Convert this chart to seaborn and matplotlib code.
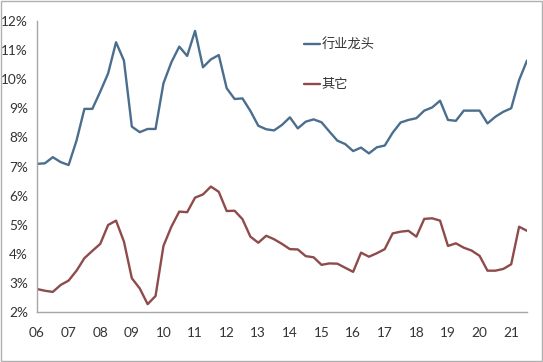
import numpy as np
import pandas as pd
import seaborn as sns
import matplotlib.pyplot as plt
from matplotlib.patches import Rectangle

# ---------------------------------------------------------------
# Data (quarterly, 2006Q1 - 2021Q3), values in %
# ---------------------------------------------------------------
leaders = [
    7.09, 7.11, 7.32, 7.15, 7.05, 7.89, 8.98, 8.98,
    9.57, 10.20, 11.27, 10.64, 8.37, 8.18, 8.29, 8.29,
    9.86, 10.58, 11.12, 10.80, 11.66, 10.41, 10.68, 10.83,
    9.69, 9.32, 9.34, 8.91, 8.40, 8.28, 8.24, 8.43,
    8.69, 8.31, 8.54, 8.62, 8.52, 8.20, 7.89, 7.77,
    7.53, 7.65, 7.45, 7.66, 7.72, 8.16, 8.51, 8.60,
    8.66, 8.92, 9.03, 9.26, 8.60, 8.57, 8.92, 8.92,
    8.92, 8.48, 8.71, 8.88, 9.00, 9.97, 10.64,
]
others = [
    2.79, 2.73, 2.69, 2.93, 3.08, 3.42, 3.85, 4.10,
    4.34, 4.99, 5.14, 4.42, 3.16, 2.81, 2.27, 2.55,
    4.27, 4.93, 5.45, 5.43, 5.93, 6.04, 6.31, 6.13,
    5.47, 5.48, 5.19, 4.59, 4.38, 4.62, 4.50, 4.34,
    4.16, 4.15, 3.92, 3.88, 3.62, 3.67, 3.66, 3.52,
    3.38, 4.04, 3.90, 4.02, 4.16, 4.70, 4.76, 4.79,
    4.59, 5.20, 5.22, 5.14, 4.27, 4.36, 4.21, 4.11,
    3.93, 3.42, 3.42, 3.48, 3.64, 4.93, 4.79,
]
series_names = ["行业龙头", "其它"]
years = list(range(2006, 2022))
year_labels = [f"{y % 100:02d}" for y in years]
y_ticks = list(range(2, 13))

quarter_pos = 2006 + 0.25 * np.arange(len(leaders))
df = pd.DataFrame({"t": quarter_pos, series_names[0]: leaders, series_names[1]: others})
long_df = df.melt(id_vars="t", var_name="series", value_name="value")

# ---------------------------------------------------------------
# Plot
# ---------------------------------------------------------------
sns.set_theme(style="white")
plt.rcParams["font.family"] = ["Lato", "Noto Sans CJK SC", "DejaVu Sans"]

fig = plt.figure(figsize=(5.43, 3.62), dpi=100)
ax = fig.add_axes([37 / 543, 1 - 312 / 362, (527 - 37) / 543, (312 - 21) / 362])

palette = {series_names[0]: "#4b6e8e", series_names[1]: "#8e4b4b"}
sns.lineplot(data=long_df, x="t", y="value", hue="series", palette=palette,
             linewidth=1.7, ax=ax)

ax.set_xlim(2006, 2021.5)
ax.set_ylim(2, 12)
ax.set_xticks(years)
ax.set_xticklabels(year_labels)
ax.set_yticks(y_ticks)
ax.set_yticklabels([f"{v}%" for v in y_ticks])
ax.set_xlabel("")
ax.set_ylabel("")

for side in ["top", "right"]:
    ax.spines[side].set_visible(False)
for side in ["left", "bottom"]:
    ax.spines[side].set_color("#a6a6a6")
    ax.spines[side].set_linewidth(1)

ax.tick_params(axis="both", which="major", direction="out", length=3.5,
               width=1, color="#a6a6a6", labelsize=9.8, labelcolor="#333333")
ax.tick_params(axis="x", pad=7)
ax.tick_params(axis="y", pad=3)

leg = ax.legend(
    loc="upper left",
    bbox_to_anchor=(304 / 543, 1 - 39 / 362),
    bbox_transform=fig.transFigure,
    frameon=False,
    handlelength=1.2,
    handletextpad=0.15,
    labelspacing=2.0,
    borderpad=0,
    borderaxespad=0,
    prop={"family": ["Noto Sans CJK SC", "DejaVu Sans"], "size": 9.5},
)
for txt in leg.get_texts():
    txt.set_color("#333333")

# thin grey frame around the whole picture
fig.patches.append(Rectangle((0.002, 0.002), 0.996, 0.996, transform=fig.transFigure,
                             fill=False, edgecolor="#b0b0b0", linewidth=1))

fig.savefig("out.png", dpi=100, facecolor="white")
plt.close(fig)
